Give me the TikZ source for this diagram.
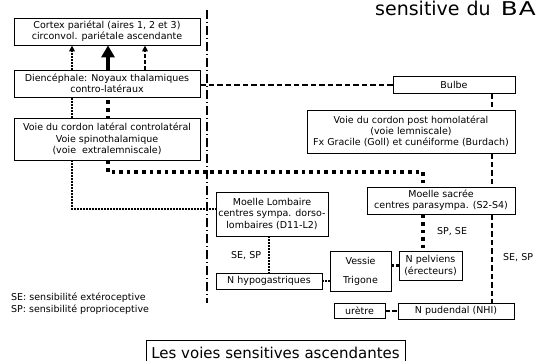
\documentclass[tikz,border=0pt]{standalone}
\usepackage{fontspec}
\setmainfont{DejaVu Sans}
\usetikzlibrary{arrows.meta}
\begin{document}
\begin{tikzpicture}[x=1pt,y=-1pt,
  box/.style={draw=black, line width=0.8pt, inner sep=0pt, align=center, font=\fontsize{9.5}{11.2}\selectfont},
  lab/.style={inner sep=0pt, font=\fontsize{9.5}{11.2}\selectfont},
  thindot/.style={line width=1.5pt, dash pattern=on 1.5pt off 1.5pt},
  thickdot/.style={line width=3.6pt, dash pattern=on 3.6pt off 4pt},
  dashln/.style={line width=2pt, dash pattern=on 5.5pt off 3pt},
  dashdot/.style={line width=1.1pt, dash pattern=on 9pt off 3pt on 1pt off 3pt},
  smallhead/.style={-{Triangle[length=6pt,width=5.5pt]}},
]
\useasboundingbox (0,0) rectangle (536,361);

% coordinates for connector positions
\coordinate (x72) at (72,0);
\coordinate (x108) at (108,0);
\coordinate (x145) at (145,0);
\coordinate (x269) at (269,0);
\coordinate (x492) at (492,0);
\coordinate (c1) at (108,172);
\coordinate (c2) at (423,172);
\coordinate (c3) at (72,209);
\coordinate (y85) at (0,85);
\coordinate (vtop) at (207,10);
\coordinate (vbot) at (207,303);

% title fragment (cut by the page edge)
\node[anchor=base west, inner sep=0pt, font=\fontsize{19}{22}\selectfont] (haut) at (375,15.5) {sensitive\hspace{7pt}du\hspace{10pt}\scalebox{1.3}[1]{B\hspace{0.8pt}A}};

% boxes
\node[box, minimum width=186pt, minimum height=27pt] (cortex) at (107,31.5) {Cortex pariétal (aires 1, 2 et 3)\\circonvol. pariétale ascendante};
\node[box, minimum width=186pt, minimum height=27pt] (dien) at (107,83.5) {Diencéphale: Noyaux thalamiques\\contro-latéraux};
\node[box, minimum width=186pt, minimum height=42pt] (voiel) at (107,139) {Voie du cordon latéral controlatéral\\Voie spinothalamique\\(voie\ \ extralemniscale)};
\node[box, minimum width=122pt, minimum height=17pt] (bulbe) at (454,84.5) {Bulbe};
\node[box, minimum width=208pt, minimum height=43pt] (voiep) at (411,131.5) {Voie du cordon post homolatéral\\(voie lemniscale)\\Fx Gracile (Goll) et cunéiforme (Burdach)};
\node[box, minimum width=148pt, minimum height=27pt] (sacree) at (441,200.5) {Moelle sacrée\\centres parasympa. (S2-S4)};
\node[box, minimum width=112pt, minimum height=44pt] (lomb) at (272,214) {Moelle Lombaire\\centres sympa. dorso-\\lombaires (D11-L2)};
\node[box, minimum width=106pt, minimum height=16pt] (hypo) at (269,281) {N hypogastriques};
\node[box, minimum width=61pt, minimum height=40pt] (vessie) at (360.5,271) {Vessie\\[8pt]Trigone};
\node[box, minimum width=63pt, minimum height=29pt] (pelv) at (430.5,265.5) {N pelviens\\(érecteurs)};
\node[box, minimum width=51pt, minimum height=15pt] (uretre) at (359.5,310.5) {urètre};
\node[box, minimum width=116pt, minimum height=16pt] (pud) at (456,311) {N pudendal (NHI)};

\node[draw=black, line width=0.8pt, inner sep=0pt, minimum width=259pt, minimum height=26pt, font=\fontsize{15}{18}\selectfont] (titre) at (275.5,353) {Les voies sensitives ascendantes};

% legend and labels
\node[lab, anchor=base west] (leg1) at (11,300.5) {SE: sensibilité extéroceptive};
\node[lab, anchor=base west] (leg2) at (11,312.5) {SP: sensibilité proprioceptive};
\node[lab, anchor=base west] (l1) at (231,258) {SE, SP};
\node[lab, anchor=base west] (l2) at (437,234) {SP, SE};
\node[lab, anchor=base west] (l3) at (503,260) {SE, SP};

% vertical separator
\draw[dashdot] (vtop) -- (vbot);

% Diencephale -> Cortex
\draw[thindot, smallhead] (dien.north -| x72) -- (cortex.south -| x72);
\draw[line width=4.5pt, -{Triangle[length=12pt,width=13pt]}] (dien.north -| x108) -- (cortex.south -| x108);
\draw[line width=2pt, dash pattern=on 3.5pt off 2.5pt, smallhead] (dien.north -| x145) -- (cortex.south -| x145);

% Voie laterale -> Diencephale
\draw[thindot] (voiel.north -| x72) -- (dien.south -| x72);
\draw[thickdot] (dien.south -| x108) ++(0,3) -- (voiel.north -| x108);

% spinal connections
\draw[thickdot] (voiel.south -| c1) -- (c1) -- (c2) -- (sacree.north -| c2);
\draw[thindot] (voiel.south -| c3) -- (c3) -- (c3 -| lomb.west);
\draw[dashln] (y85 -| dien.east) -- (y85 -| bulbe.west);
\draw[dashln] (bulbe.south -| x492) -- (voiep.north -| x492);
\draw[dashln] (voiep.south -| x492) -- (sacree.north -| x492);
\draw[dashln] (sacree.south -| x492) -- (pud.north -| x492);
\draw[thickdot] (sacree.south -| c2) -- (pelv.north -| c2);
\draw[thindot] (lomb.south -| x269) -- (hypo.north -| x269);
\draw[thindot] (hypo.east) -- (hypo.east -| vessie.west);
\draw[line width=3.6pt, dash pattern=on 3pt off 1.6pt] (pelv.west -| vessie.east) -- (pelv.west);
\draw[line width=2pt, dash pattern=on 4.5pt off 2.5pt] (uretre.east) -- (uretre.east -| pud.west);
\end{tikzpicture}
\end{document}
